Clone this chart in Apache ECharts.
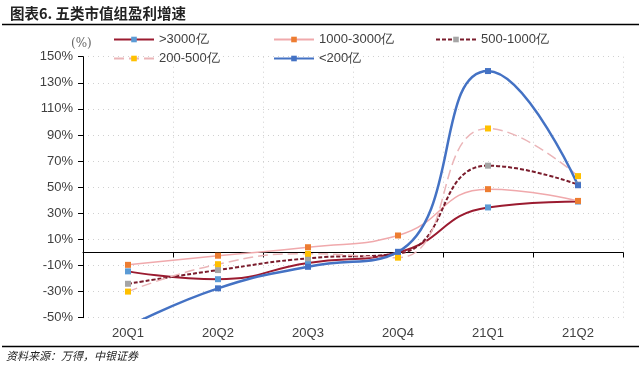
<!DOCTYPE html>
<html><head><meta charset="utf-8">
<script src="https://cdn.jsdelivr.net/npm/echarts@6/dist/echarts.min.js"></script>
<style>html,body{margin:0;padding:0;background:#fff}#c{width:639px;height:367px}</style>
</head><body><div id="c"></div>
<script>
const categories = ['20Q1','20Q2','20Q3','20Q4','21Q1','21Q2'];
const names = ['>3000亿','1000-3000亿','500-1000亿','200-500亿','<200亿'];
const s3000 = [-14.5, -20.5, -8, 0, 34.5, 39];
const s1000_3000 = [-9.5, -2.5, 4, 13, 48.5, 39.5];
const s500_1000 = [-24, -13.5, -4.5, -1, 66.5, 52];
const s200_500 = [-30, -9, -1, -4, 95, 58.5];
const s200 = [-57, -27.5, -11, 0.5, 139, 51.5];
const yTicks = {min: -50, max: 150, step: 20};
const titleText = '图表6. 五类市值组盈利增速';
const sourceText = '资料来源：万得，中银证券';

const chart = echarts.init(document.getElementById('c'), null, {renderer: 'canvas'});
const font = 'Liberation Sans, Arial, sans-serif';
const txt = '#404040';
function mkSeries(name, data, dot, line, width, type) {
  return {
    name, type: 'line', data, xAxisIndex: 0, yAxisIndex: 0,
    smooth: 0.5, symbol: 'rect', symbolSize: 6,
    itemStyle: {color: dot},
    lineStyle: {color: line, width, type: type || 'solid'},
    emphasis: {disabled: true}, animation: false
  };
}
const series = [
  mkSeries(names[0], s3000, '#5B9BD5', '#9B1B30', 2),
  mkSeries(names[1], s1000_3000, '#ED7D31', '#F0A9AC', 1.5),
  mkSeries(names[2], s500_1000, '#A5A5A5', '#7A1C2C', 2, [4, 2]),
  mkSeries(names[3], s200_500, '#FFC000', '#EBB5B8', 1.5, [10, 5]),
  mkSeries(names[4], s200, '#4472C4', '#4472C4', 2.5)
];
const legPos = [[113, 33], [273, 33], [435, 33], [113, 52], [273, 52]];
const legends = names.map((n, i) => ({
  data: [n], left: legPos[i][0], top: legPos[i][1], itemWidth: 40, itemHeight: 7,
  padding: 0, selectedMode: false,
  textStyle: {fontFamily: font, fontSize: 13, color: txt}
}));
chart.setOption({
  animation: false,
  backgroundColor: '#fff',
  title: {text: titleText, left: 5, top: 1, textStyle: {fontFamily: 'Noto Sans CJK SC', fontSize: 14.5, fontWeight: 'bold', color: '#222'}},
  legend: legends,
  grid: {left: 83, right: 16, top: 56.7, bottom: 49.3, containLabel: false},
  xAxis: [{
    type: 'category', data: categories, position: 'bottom', boundaryGap: true,
    axisLine: {show: false, onZero: false}, axisTick: {show: false},
    axisLabel: {fontFamily: font, fontSize: 13, color: txt, margin: 9},
    splitLine: {show: true, lineStyle: {color: '#D0D0D0', type: [1, 4], width: 1}}
  }, {
    type: 'category', data: categories, position: 'bottom', boundaryGap: true,
    axisLine: {show: true, onZero: true, onZeroAxisIndex: 0, lineStyle: {color: '#000', width: 1}},
    axisTick: {show: true, length: 5, lineStyle: {color: '#000'}},
    axisLabel: {show: false}, splitLine: {show: false}
  }],
  yAxis: [{
    type: 'value', min: yTicks.min, max: yTicks.max, interval: yTicks.step,
    name: '(%)', nameLocation: 'end', nameGap: 4,
    nameTextStyle: {fontFamily: 'DejaVu Serif', fontSize: 12, color: '#666', align: 'left', padding: [0, 0, 0, -12]},
    axisLine: {show: true, lineStyle: {color: '#000', width: 1}},
    axisTick: {show: true, length: 5, lineStyle: {color: '#000'}},
    axisLabel: {fontFamily: font, fontSize: 13, color: txt, margin: 10, formatter: v => v + '%'},
    splitLine: {show: true, lineStyle: {color: '#D0D0D0', type: [1, 4], width: 1}}
  }],
  series,
  graphic: [
    {type: 'line', shape: {x1: 2, y1: 24.5, x2: 639, y2: 24.5}, style: {stroke: '#000', lineWidth: 1.5}, silent: true},
    {type: 'line', shape: {x1: 2, y1: 346.5, x2: 639, y2: 346.5}, style: {stroke: '#000', lineWidth: 1.5}, silent: true},
    {type: 'text', left: 6, top: 350, style: {text: sourceText, font: 'italic 11px "Noto Sans CJK SC"', fill: '#222'}, silent: true}
  ]
});
</script></body></html>
